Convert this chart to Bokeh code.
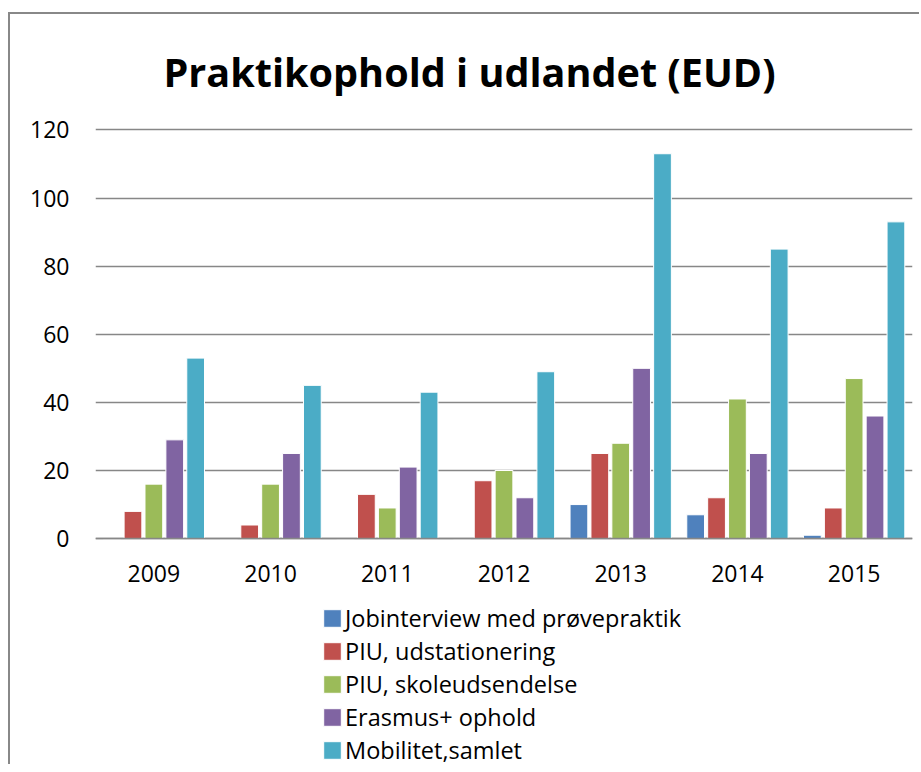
from bokeh.plotting import figure
from bokeh.models import FactorRange, Range1d, Legend, LegendItem, ColumnDataSource
from bokeh.transform import dodge
from bokeh.embed import file_html
from bokeh.resources import INLINE

years = ["2009", "2010", "2011", "2012", "2013", "2014", "2015"]
series_names = ["Jobinterview med prøvepraktik", "PIU, udstationering",
                "PIU, skoleudsendelse", "Erasmus+ ophold", "Mobilitet,samlet"]
jobinterview = [0, 0, 0, 0, 10, 7, 1]
piu_udstationering = [8, 4, 13, 17, 25, 12, 9]
piu_skoleudsendelse = [16, 16, 9, 20, 28, 41, 47]
erasmus = [29, 25, 21, 12, 50, 25, 36]
mobilitet = [53, 45, 43, 49, 113, 85, 93]
colors = ["#4F81BD", "#C0504D", "#9BBB59", "#8064A2", "#4BACC6"]
y_ticks = [0, 20, 40, 60, 80, 100, 120]

FONT = "Open Sans"

src = ColumnDataSource(dict(year=years, s0=jobinterview, s1=piu_udstationering,
                            s2=piu_skoleudsendelse, s3=erasmus, s4=mobilitet))

# frame extends below zero so the legend (drawn in the frame) is not clipped;
# the x axis is pinned at y = 0
p = figure(x_range=FactorRange(*years, range_padding=0), y_range=Range1d(-66.9, 121),
           width=911, height=752, output_backend="svg", toolbar_location=None,
           min_border_left=85, min_border_right=9, min_border_top=112, min_border_bottom=0,
           title="Praktikophold i udlandet (EUD)")
p.styles = {"border-left": "2px solid #888888", "border-top": "2px solid #888888",
            "margin-top": "12px", "margin-left": "8px"}
p.outline_line_color = None
p.background_fill_color = "white"
p.border_fill_color = "white"

p.title.text_font = FONT
p.title.text_font_style = "bold"
p.title.text_font_size = "39.6px"
p.title.align = "left"
p.title.offset = 68
p.title.text_color = "black"
p.title.standoff = 55

slot = 0.179
items = []
for i, (name, col) in enumerate(zip(series_names, colors)):
    r = p.vbar(x=dodge("year", (i - 2) * slot, range=p.x_range), top="s%d" % i, width=0.152,
               source=src, fill_color=col, line_color="white", line_width=1)
    items.append(LegendItem(label=name, renderers=[r]))

legend = Legend(items=items, location=(226, 0), orientation="vertical",
                glyph_width=22, glyph_height=22, label_height=33, spacing=0,
                padding=0, margin=0, label_standoff=2,
                label_text_font=FONT, label_text_font_size="23.5px", label_text_color="black",
                border_line_color=None, background_fill_alpha=0)
p.add_layout(legend, "center")

p.xgrid.grid_line_color = None
p.ygrid.grid_line_color = "#878787"
p.ygrid.grid_line_width = 1.5
p.yaxis.ticker = y_ticks
p.yaxis.axis_line_color = None
p.yaxis.major_tick_line_color = None
p.yaxis.minor_tick_line_color = None
p.yaxis.major_tick_out = 0
p.yaxis.major_label_standoff = 26
p.yaxis.major_label_text_font = FONT
p.yaxis.major_label_text_font_size = "23px"
p.yaxis.major_label_text_color = "black"

p.xaxis.fixed_location = 0
p.xaxis.axis_line_color = "#878787"
p.xaxis.axis_line_width = 1.5
p.xaxis.major_tick_line_color = None
p.xaxis.major_tick_out = 0
p.xaxis.major_label_standoff = 26
p.xaxis.major_label_text_font = FONT
p.xaxis.major_label_text_font_size = "23px"
p.xaxis.major_label_text_color = "black"

open("out.html", "w").write(file_html(p, INLINE))
